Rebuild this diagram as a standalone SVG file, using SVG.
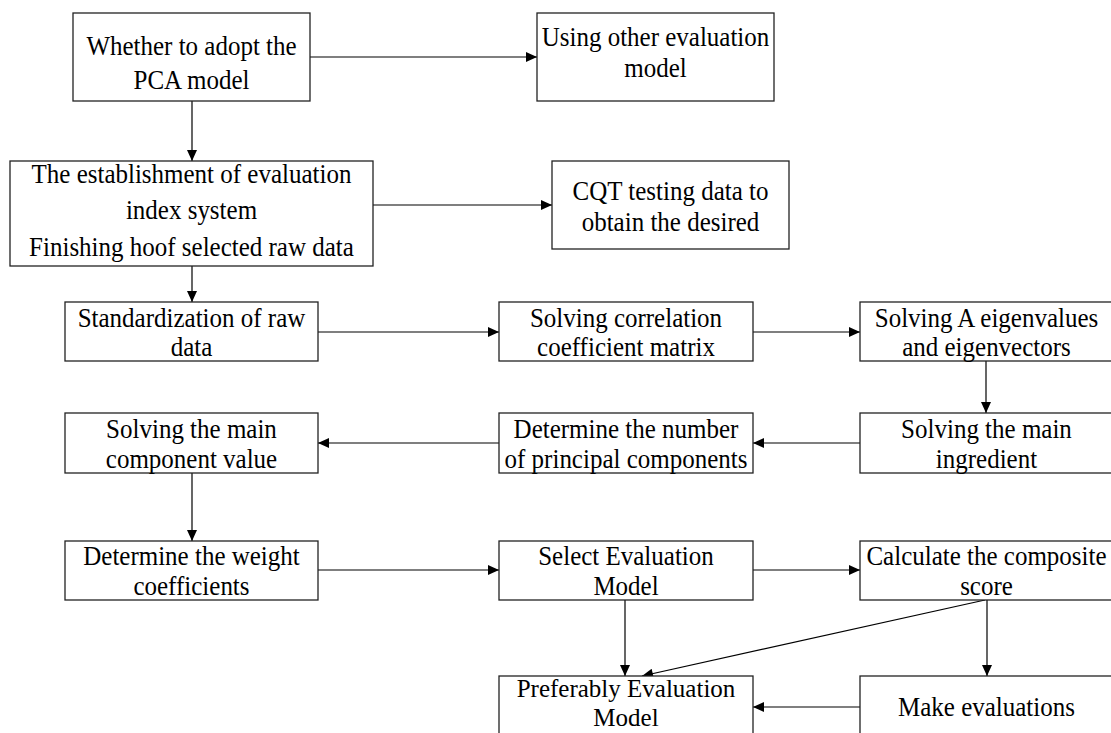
<svg xmlns="http://www.w3.org/2000/svg" width="1111" height="733" viewBox="0 0 1111 733">
<defs>
<style>
.box{fill:#fff;stroke:#222;stroke-width:1.3}
.t{font-family:"Liberation Serif","Times New Roman",serif;font-size:25px;fill:#000;text-anchor:middle;transform-box:fill-box;transform-origin:center;transform:scale(1,1.1)}
.tf{font-family:"Liberation Serif","Times New Roman",serif;font-size:25px;fill:#000;text-anchor:middle}
.c{stroke:#000;stroke-width:1.2;fill:none;marker-end:url(#ah)}
</style>
<marker id="ah" markerUnits="userSpaceOnUse" markerWidth="12" markerHeight="10" refX="11" refY="5" orient="auto" viewBox="0 0 11 10">
<path d="M0,0 L11,5 L0,10 Z" fill="#000"/>
</marker>
</defs>
<rect width="1111" height="733" fill="#fff"/>
<g id="connectors">
<line class="c" x1="310" y1="57" x2="537" y2="57"/>
<line class="c" x1="192" y1="101" x2="192" y2="161"/>
<line class="c" x1="373" y1="205" x2="552" y2="205"/>
<line class="c" x1="192" y1="266" x2="192" y2="302"/>
<line class="c" x1="318" y1="332" x2="499" y2="332"/>
<line class="c" x1="753" y1="332" x2="860" y2="332"/>
<line class="c" x1="986" y1="361" x2="986" y2="413"/>
<line class="c" x1="860" y1="443" x2="753" y2="443"/>
<line class="c" x1="499" y1="443" x2="318" y2="443"/>
<line class="c" x1="192" y1="473" x2="192" y2="541"/>
<line class="c" x1="318" y1="570" x2="499" y2="570"/>
<line class="c" x1="753" y1="570" x2="860" y2="570"/>
<line class="c" x1="625" y1="600" x2="625" y2="676"/>
<line class="c" x1="985" y1="600" x2="642" y2="676"/>
<line class="c" x1="987" y1="600" x2="987" y2="676"/>
<line class="c" x1="860" y1="707" x2="753" y2="707"/>
</g>
<g id="n-adopt"><rect class="box" x="73" y="13" width="237" height="88"/>
<text class="t" x="191.5" y="54">Whether to adopt the</text><text class="t" x="191.5" y="88">PCA model</text></g>
<g id="n-other"><rect class="box" x="537" y="13" width="237" height="88"/>
<text class="t" x="655.5" y="45">Using other evaluation</text><text class="t" x="655.5" y="76">model</text></g>
<g id="n-index"><rect class="box" x="10" y="161" width="363" height="105"/>
<text class="t" x="191.5" y="182">The establishment of evaluation</text><text class="t" x="191.5" y="218">index system</text><text class="t" x="191.5" y="255">Finishing hoof selected raw data</text></g>
<g id="n-cqt"><rect class="box" x="552" y="161" width="237" height="88"/>
<text class="t" x="670.5" y="199">CQT testing data to</text><text class="t" x="670.5" y="230">obtain the desired</text></g>
<g id="n-std"><rect class="box" x="65" y="302" width="253" height="59"/>
<text class="t" x="191.5" y="326">Standardization of raw</text><text class="t" x="191.5" y="355">data</text></g>
<g id="n-corr"><rect class="box" x="499" y="302" width="254" height="59"/>
<text class="t" x="626" y="326">Solving correlation</text><text class="t" x="626" y="355">coefficient matrix</text></g>
<g id="n-eigen"><rect class="box" x="860" y="302" width="253" height="59"/>
<text class="t" x="986.5" y="326">Solving A eigenvalues</text><text class="t" x="986.5" y="355">and eigenvectors</text></g>
<g id="n-compval"><rect class="box" x="65" y="413" width="253" height="60"/>
<text class="t" x="191.5" y="437">Solving the main</text><text class="t" x="191.5" y="467">component value</text></g>
<g id="n-number"><rect class="box" x="499" y="413" width="254" height="60"/>
<text class="t" x="626" y="437">Determine the number</text><text class="t" x="626" y="467">of principal components</text></g>
<g id="n-ingredient"><rect class="box" x="860" y="413" width="253" height="60"/>
<text class="t" x="986.5" y="437">Solving the main</text><text class="t" x="986.5" y="467">ingredient</text></g>
<g id="n-weight"><rect class="box" x="65" y="541" width="253" height="59"/>
<text class="t" x="191.5" y="564">Determine the weight</text><text class="t" x="191.5" y="594">coefficients</text></g>
<g id="n-select"><rect class="box" x="499" y="541" width="254" height="59"/>
<text class="t" x="626" y="564">Select Evaluation</text><text class="t" x="626" y="594">Model</text></g>
<g id="n-composite"><rect class="box" x="860" y="541" width="253" height="59"/>
<text class="t" x="986.5" y="564">Calculate the composite</text><text class="t" x="986.5" y="594">score</text></g>
<g id="n-preferably"><rect class="box" x="499" y="676" width="254" height="62"/>
<text class="tf" x="626" y="697">Preferably Evaluation</text><text class="tf" x="626" y="726">Model</text></g>
<g id="n-make"><rect class="box" x="860" y="676" width="253" height="62"/>
<text class="t" x="986.5" y="715">Make evaluations</text></g>
</svg>
